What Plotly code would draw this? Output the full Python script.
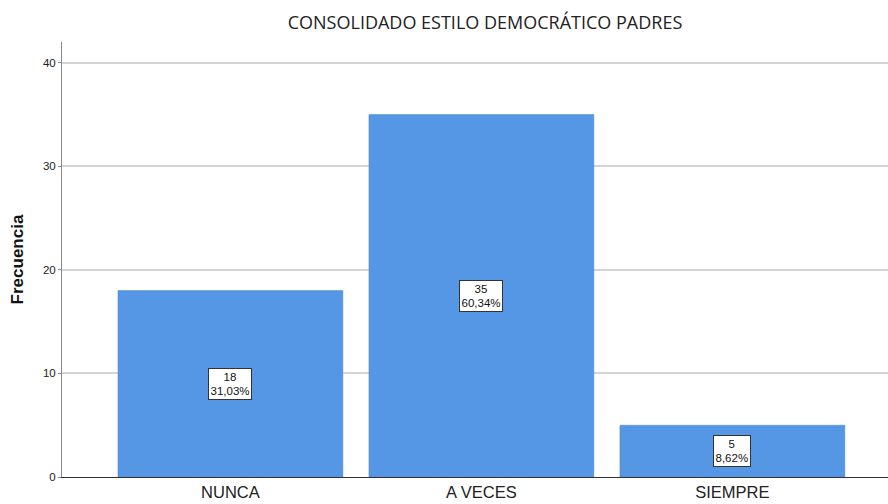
import plotly.graph_objects as go

categorias = ['NUNCA', 'A VECES', 'SIEMPRE']
frecuencias = [18, 35, 5]
porcentajes = ['31,03%', '60,34%', '8,62%']

fig = go.Figure()

fig.add_trace(go.Bar(
    x=categorias,
    y=frecuencias,
    width=0.896,
    marker={'color': '#5596e5', 'line': {'color': '#4a86d0', 'width': 0.5}},
    hoverinfo='skip'
))

for cat, f, p in zip(categorias, frecuencias, porcentajes):
    fig.add_annotation(
        x=cat, y=f / 2,
        text=f'{f}<br>{p}',
        showarrow=False,
        font={'family': 'Liberation Sans, Arial', 'size': 11.5, 'color': '#111'},
        bgcolor='white',
        bordercolor='#333',
        borderwidth=1,
        borderpad=1.5,
        align='center'
    )

fig.update_xaxes(
    range=[-0.671, 2.62],
    showline=True,
    linecolor='#333',
    linewidth=1,
    ticks='',
    tickfont={'family': 'Liberation Sans, Arial', 'size': 16.5, 'color': '#222'},
    showgrid=False
)

fig.update_yaxes(
    range=[0, 42],
    tickvals=[0, 10, 20, 30, 40],
    showline=True,
    linecolor='#888',
    linewidth=1,
    gridcolor='#d4d4d4',
    gridwidth=1.5,
    zeroline=False,
    ticks='outside',
    ticklen=3,
    tickcolor='#888',
    tickfont={'family': 'Liberation Sans, Arial', 'size': 11.5, 'color': '#222'},
    title={'text': '<b>Frecuencia</b>', 'standoff': 14,
           'font': {'family': 'Liberation Sans, Arial', 'size': 17, 'color': '#111'}}
)

fig.update_layout(
    width=888,
    height=504,
    margin={'l': 62, 'r': 0, 't': 42, 'b': 27, 'autoexpand': False},
    paper_bgcolor='white',
    plot_bgcolor='white',
    showlegend=False,
    title={'text': 'CONSOLIDADO ESTILO DEMOCRÁTICO PADRES',
           'x': 485 / 888, 'xanchor': 'center', 'y': 0.955, 'yanchor': 'middle',
           'font': {'family': 'Open Sans', 'size': 18, 'color': '#222'}}
)

fig.write_html('out.html', config={'displayModeBar': False},
               post_script="document.body.style.margin='0';")
